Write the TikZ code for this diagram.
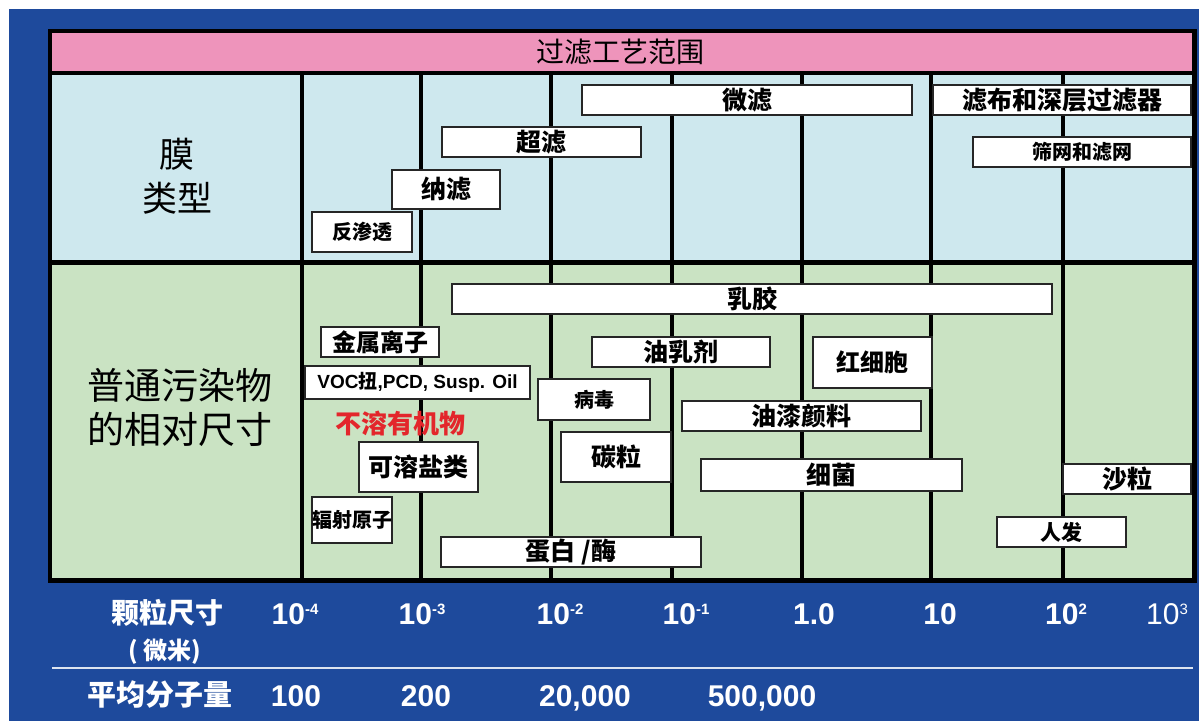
\documentclass[tikz,border=0pt]{standalone}
\usepackage{fontspec}
\setmainfont{Liberation Sans}
\newfontfamily\cjk{Noto Sans CJK SC}
\definecolor{bgblue}{HTML}{1E4A9C}
\definecolor{pinkband}{HTML}{EE94BB}
\definecolor{memblue}{HTML}{CEE8EE}
\definecolor{polgreen}{HTML}{CAE3C3}
\definecolor{redtxt}{HTML}{E3262B}
\definecolor{rulewhite}{HTML}{DDE4F0}
\tikzset{
  box/.style={draw=black!85, line width=1.2pt, fill=white, inner sep=0pt},
  gridline/.style={line width=4.5pt, black},
  axis/.style={text=white, inner sep=0pt},
}
\newcommand\mybox[7]{%
  \node[box, minimum width={(#4-#2)*1pt}, minimum height={(#5-#3)*1pt},
        font=\cjk\bfseries\fontsize{#6}{#6}\selectfont]
        (#1) at ({(#2+#4)/2},{(#3+#5)/2}) {#7};}
\newcommand\pw[2]{#1\raisebox{10pt}{\fontsize{15}{15}\selectfont #2}}
\begin{document}
\begin{tikzpicture}[x=1pt,y=-1pt]
\useasboundingbox (0,0) rectangle (1199,721);
\fill[white] (0,0) rectangle (1199,721);
\fill[bgblue] (9,9) rectangle (1199,721);
% frame and panels
\fill[black] (48,29) rectangle (1197,583);
\fill[pinkband] (52,33) rectangle (1192,71);
\fill[memblue] (52,75) rectangle (1192,260);
\fill[polgreen] (52,265) rectangle (1192,578);
% vertical grid lines
\foreach \gx in {302,421,551,672,802,931,1063}
  \draw[gridline] (\gx,73) -- (\gx,580);
% titles
\node[font=\cjk\fontsize{28}{28}\selectfont, inner sep=0pt] (title) at (620,52) {过滤工艺范围};
\node[font=\cjk\fontsize{35}{44}\selectfont, align=center, inner sep=0pt] (memlabel) at (177,176) {膜\\类型};
\node[font=\cjk\fontsize{37}{44}\selectfont, align=center, inner sep=0pt] (pollabel) at (180,407) {普通污染物\\的相对尺寸};
% membrane boxes
\mybox{mf}{582}{85}{912}{115}{25}{微滤}
\mybox{cloth}{933}{85}{1191}{115}{25}{滤布和深层过滤器}
\mybox{uf}{442}{127}{641}{157}{25}{超滤}
\mybox{screen}{973}{137}{1191}{167}{20}{筛网和滤网}
\mybox{nf}{392}{170}{500}{209}{25}{纳滤}
\mybox{ro}{312}{212}{412}{252}{20}{反渗透}
% contaminant boxes
\mybox{latex}{452}{284}{1052}{314}{25}{乳胶}
\mybox{metal}{321}{327}{439}{357}{24}{金属离子}
\mybox{oilem}{592}{337}{770}{367}{25}{油乳剂}
\mybox{rbc}{813}{337}{932}{388}{24}{红细胞}
\node[box, minimum width=225pt, minimum height=33pt,
      font=\bfseries\fontsize{19}{19}\selectfont] (voc) at (417.5,382.5)
      {VOC{\cjk 扭},PCD, Susp. Oil};
\mybox{virus}{538}{379}{650}{420}{20}{病毒}
\mybox{paint}{682}{401}{921}{431}{25}{油漆颜料}
\node[font=\cjk\bfseries\fontsize{26}{26}\selectfont, text=redtxt, inner sep=0pt] (insol) at (400,423) {不溶有机物};
\mybox{carbon}{561}{432}{671}{482}{25}{碳粒}
\mybox{salt}{359}{442}{478}{492}{25}{可溶盐类}
\mybox{bact}{701}{459}{962}{491}{25}{细菌}
\mybox{sand}{1063}{464}{1191}{494}{25}{沙粒}
\mybox{rad}{312}{497}{392}{543}{20}{辐射原子}
\mybox{hair}{997}{517}{1126}{547}{21}{人发}
\mybox{prot}{441}{537}{701}{567}{25}{蛋白 /酶}
% axis labels
\node[axis, font=\cjk\bfseries\fontsize{28}{28}\selectfont] (sizelbl) at (167,613) {颗粒尺寸};
\node[axis, font=\cjk\bfseries\fontsize{24}{24}\selectfont] (unitlbl) at (165,652) {( 微米)};
\begin{scope}[every node/.style={axis, anchor=base, font=\bfseries\fontsize{30}{30}\selectfont}]
\node (s1) at (295,624) {\pw{10}{-4}};
\node (s2) at (422,624) {\pw{10}{-3}};
\node (s3) at (560,624) {\pw{10}{-2}};
\node (s4) at (686,624) {\pw{10}{-1}};
\node (s5) at (814,624) {1.0};
\node (s6) at (940,624) {10};
\node (s7) at (1066,624) {\pw{10}{2}};
\end{scope}
\node[axis, anchor=base, font=\fontsize{30}{30}\selectfont] (s8) at (1167,624) {\pw{10}{3}};
\coordinate (ruleL) at (52,668);
\coordinate (ruleR) at (1193,668);
\draw[rulewhite, line width=2pt] (ruleL) -- (ruleR);
\node[axis, font=\cjk\bfseries\fontsize{29}{29}\selectfont] (mwlbl) at (160,695) {平均分子量};
\begin{scope}[every node/.style={axis, anchor=base, font=\bfseries\fontsize{30}{30}\selectfont}]
\node (m1) at (296,706) {100};
\node (m2) at (426,706) {200};
\node (m3) at (585,706) {20,000};
\node (m4) at (762,706) {500,000};
\end{scope}
\end{tikzpicture}
\end{document}
